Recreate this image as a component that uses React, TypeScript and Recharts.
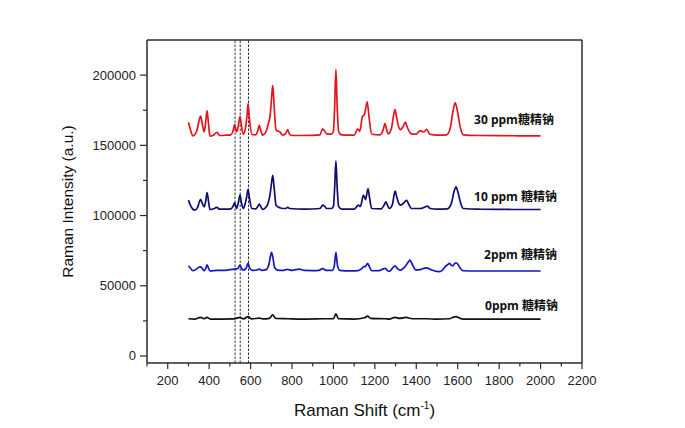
import React from 'react';
import { ComposedChart, Line, XAxis, YAxis, ReferenceLine, ReferenceDot } from 'recharts';

// Raman spectra (shift in cm-1, intensity in a.u.)
const shift30 = [300, 310, 322, 340, 352, 359, 366, 376, 383, 390, 397, 404, 420, 438, 450, 480, 505, 515, 523, 528, 532, 540, 549, 556, 565, 575, 582, 588, 594, 606, 625, 635, 642, 649, 658, 672, 685, 695, 701, 707, 713, 723, 742, 755, 770, 779, 788, 798, 860, 935, 948, 958, 967, 990, 1000, 1006, 1012, 1018, 1025, 1040, 1080, 1100, 1117, 1127, 1140, 1150, 1163, 1172, 1185, 1225, 1240, 1249, 1257, 1265, 1280, 1290, 1297, 1305, 1315, 1324, 1340, 1348, 1356, 1377, 1400, 1418, 1435, 1450, 1466, 1500, 1547, 1565, 1578, 1588, 1598, 1612, 1627, 1700, 1800, 1900, 2000];
const int30 = [166400, 161000, 156800, 160000, 168000, 170900, 166000, 159500, 166000, 174700, 165000, 156500, 157200, 159300, 157000, 157200, 157500, 160000, 164800, 162000, 159600, 163000, 170700, 164000, 157900, 162000, 170000, 179700, 170000, 157700, 157500, 160500, 164300, 160500, 157200, 159000, 165000, 172000, 183000, 192700, 180000, 160800, 159500, 157200, 158500, 161200, 158000, 157000, 157000, 157500, 161700, 160000, 158200, 158000, 160000, 178000, 204100, 178000, 160000, 157500, 157300, 157300, 161700, 160000, 170500, 172000, 181000, 170000, 157900, 157500, 161000, 165400, 161000, 158200, 162000, 171000, 175400, 170000, 163000, 161200, 164500, 166600, 163000, 158200, 158000, 160500, 159500, 161300, 157900, 157300, 157500, 163000, 175000, 180200, 175000, 163000, 157500, 157000, 156900, 156800, 156800];

const shift10 = [300, 312, 330, 345, 352, 359, 366, 376, 383, 390, 397, 404, 420, 438, 450, 480, 505, 515, 523, 528, 532, 540, 549, 556, 565, 575, 582, 588, 594, 606, 625, 635, 642, 649, 658, 672, 685, 695, 701, 707, 713, 723, 742, 755, 770, 779, 788, 860, 935, 948, 958, 967, 990, 1000, 1006, 1012, 1018, 1025, 1040, 1100, 1120, 1130, 1145, 1155, 1167, 1175, 1185, 1230, 1245, 1253, 1262, 1270, 1285, 1292, 1298, 1306, 1316, 1324, 1343, 1353, 1362, 1377, 1420, 1440, 1453, 1468, 1500, 1550, 1570, 1582, 1592, 1602, 1615, 1627, 1700, 1800, 1900, 2000];
const int10 = [111000, 106500, 103800, 106000, 109500, 111500, 109000, 106200, 110000, 116400, 110000, 104300, 104800, 105800, 104500, 104500, 104800, 106500, 109000, 107000, 105000, 108500, 114500, 109000, 105000, 109000, 114000, 118600, 113000, 105000, 104800, 106500, 108100, 106500, 104300, 105500, 109000, 116000, 123000, 128700, 121000, 107400, 105500, 105000, 105000, 105800, 105000, 104500, 105000, 107400, 106500, 105000, 105000, 106500, 120000, 138900, 120000, 106500, 104500, 104500, 107400, 106500, 114500, 111400, 119200, 112000, 105000, 104800, 107500, 109700, 107000, 105000, 108000, 114000, 117400, 113000, 108500, 107400, 109500, 110900, 108500, 105000, 105000, 106000, 106700, 105000, 104500, 104800, 109000, 117000, 120400, 116000, 108500, 105000, 104500, 104400, 104300, 104300];

const shift2 = [300, 310, 322, 340, 350, 359, 368, 376, 384, 390, 397, 404, 440, 480, 500, 530, 540, 549, 556, 565, 578, 588, 596, 610, 630, 642, 655, 675, 688, 696, 701, 708, 716, 730, 760, 779, 800, 835, 860, 900, 930, 948, 965, 995, 1004, 1012, 1020, 1030, 1080, 1120, 1135, 1145, 1155, 1165, 1174, 1185, 1220, 1240, 1249, 1260, 1270, 1285, 1297, 1310, 1324, 1345, 1360, 1369, 1378, 1398, 1420, 1440, 1450, 1470, 1507, 1525, 1539, 1552, 1560, 1568, 1576, 1585, 1592, 1600, 1612, 1627, 1700, 1800, 1900, 2000];
const int2 = [64200, 62500, 60700, 62000, 63200, 63500, 62000, 60700, 62500, 64900, 62500, 60500, 61000, 61000, 61500, 62000, 62500, 64700, 62500, 61200, 62500, 65900, 62500, 61000, 61200, 61900, 61000, 61500, 65000, 71000, 73800, 70000, 63000, 61200, 61000, 61700, 61000, 61900, 60900, 60800, 61000, 62200, 61000, 61000, 64000, 73800, 64000, 61000, 60600, 60800, 62000, 63500, 63800, 65900, 63500, 60700, 60800, 62000, 62400, 61000, 60200, 62500, 64200, 62000, 61200, 63500, 66500, 68300, 66000, 61200, 61500, 62600, 62800, 61500, 60000, 61000, 63500, 65000, 65900, 64800, 64200, 65800, 66400, 65500, 62500, 60700, 60500, 60500, 60500, 60500];

const shift0 = [300, 330, 359, 375, 390, 405, 450, 520, 549, 565, 588, 605, 642, 660, 690, 707, 722, 780, 850, 950, 1000, 1012, 1024, 1100, 1150, 1165, 1180, 1250, 1270, 1297, 1320, 1350, 1380, 1450, 1500, 1560, 1580, 1592, 1605, 1625, 1700, 2000];
const int0 = [26500, 26200, 27500, 26500, 27500, 26300, 26300, 26400, 27500, 26400, 28000, 26400, 27000, 26400, 26800, 29200, 26700, 26500, 26300, 26500, 26600, 30000, 26600, 26300, 27200, 28400, 26800, 26500, 26200, 27500, 26800, 27500, 26500, 26500, 26200, 26500, 27700, 28000, 27300, 26300, 26300, 26300];

const xTicks = [100, 200, 300, 400, 500, 600, 700, 800, 900, 1000, 1100, 1200, 1300, 1400, 1500, 1600, 1700, 1800, 1900, 2000, 2100, 2200];
const yTicks = [0, 25000, 50000, 75000, 100000, 125000, 150000, 175000, 200000];
const markerShifts = [525, 550, 590];

const seriesTags = [
  { text: '30 ppm糖精钠', x: 1679, y: 168600 },
  { text: '10 ppm 糖精钠', x: 1679, y: 113800 },
  { text: '2ppm 糖精钠', x: 1727, y: 72500 },
  { text: '0ppm 糖精钠', x: 1732, y: 35600 },
];

const zip = (xs: number[], ys: number[]) => xs.map((x, i) => ({ x, y: ys[i] }));

const axisColor = '#2b2b2b';
const font = "'Liberation Sans', Arial, sans-serif";

const XTick = ({ x, y, payload }: any) => {
  const major = payload.value % 200 === 0;
  return (
    <g>
      <line x1={x} x2={x} y1={y} y2={y + (major ? 6 : 3.5)} stroke={axisColor} strokeWidth={1.2} />
      {major && (
        <text x={x} y={y + 22} textAnchor="middle" fontSize={13} fontFamily={font} fill="#222">
          {payload.value}
        </text>
      )}
    </g>
  );
};

const YTick = ({ x, y, payload }: any) => {
  const major = payload.value % 50000 === 0;
  return (
    <g>
      <line x1={x} x2={x - (major ? 7 : 4)} y1={y} y2={y} stroke={axisColor} strokeWidth={1.2} />
      {major && (
        <text x={x - 11} y={y + 4.5} textAnchor="end" fontSize={13} fontFamily={font} fill="#222">
          {payload.value}
        </text>
      )}
    </g>
  );
};

const XTitle = ({ viewBox }: any) => (
  <text x={viewBox.x + viewBox.width / 2} y={viewBox.y + 53} textAnchor="middle" fontSize={17} fontFamily={font} fill="#111">
    Raman Shift (cm
    <tspan dy={-7} fontSize={10}>-1</tspan>
    <tspan dy={7}>)</tspan>
  </text>
);

const YTitle = ({ viewBox }: any) => {
  const cx = viewBox.x + 73;
  const cy = viewBox.y + viewBox.height / 2;
  return (
    <text x={cx} y={cy} transform={`rotate(-90 ${cx} ${cy})`} textAnchor="middle" fontSize={15.5} fontFamily={font} fill="#111">
      Raman Intensity (a.u.)
    </text>
  );
};

const Tag = ({ viewBox, value }: any) => (
  <text x={viewBox.x} y={viewBox.y + 4.5} fontSize={12} fontWeight={700} fontFamily="'Open Sans', 'Noto Sans CJK SC', sans-serif" fill="#111">
    {value}
  </text>
);

export default function App() {
  return (
    <div style={{ position: 'absolute', left: 0, top: 0, width: 685, height: 428, background: '#fff' }}>
      <ComposedChart width={685} height={428} margin={{ top: 40, right: 103, bottom: 0, left: 0 }}>
        <XAxis
          type="number"
          dataKey="x"
          domain={[100, 2200]}
          ticks={xTicks}
          interval={0}
          height={65}
          tickSize={0}
          tickMargin={0}
          tickLine={false}
          tick={<XTick />}
          axisLine={{ stroke: axisColor, strokeWidth: 1.5 }}
          label={<XTitle />}
          allowDataOverflow
        />
        <YAxis
          type="number"
          domain={[-5000, 225000]}
          ticks={yTicks}
          interval={0}
          width={147}
          tickSize={0}
          tickMargin={0}
          tickLine={false}
          tick={<YTick />}
          axisLine={{ stroke: axisColor, strokeWidth: 1.5 }}
          label={<YTitle />}
          allowDataOverflow
        />
        <ReferenceLine y={225000} stroke={axisColor} strokeWidth={1.5} />
        <ReferenceLine x={2200} stroke={axisColor} strokeWidth={1.5} />
        {markerShifts.map((s) => (
          <ReferenceLine key={s} x={s} stroke="#333" strokeWidth={1} strokeDasharray="2.5 1.5" />
        ))}
        <Line data={zip(shift0, int0)} dataKey="y" type="monotone" stroke="#111111" strokeWidth={1.7} dot={false} isAnimationActive={false} />
        <Line data={zip(shift2, int2)} dataKey="y" type="monotone" stroke="#1515c4" strokeWidth={1.7} dot={false} isAnimationActive={false} />
        <Line data={zip(shift10, int10)} dataKey="y" type="monotone" stroke="#0d0d72" strokeWidth={1.7} dot={false} isAnimationActive={false} />
        <Line data={zip(shift30, int30)} dataKey="y" type="monotone" stroke="#e5141c" strokeWidth={1.7} dot={false} isAnimationActive={false} />
        {seriesTags.map((t) => (
          <ReferenceDot key={t.text} x={t.x} y={t.y} r={0} fill="none" stroke="none" label={<Tag value={t.text} />} />
        ))}
      </ComposedChart>
    </div>
  );
}
